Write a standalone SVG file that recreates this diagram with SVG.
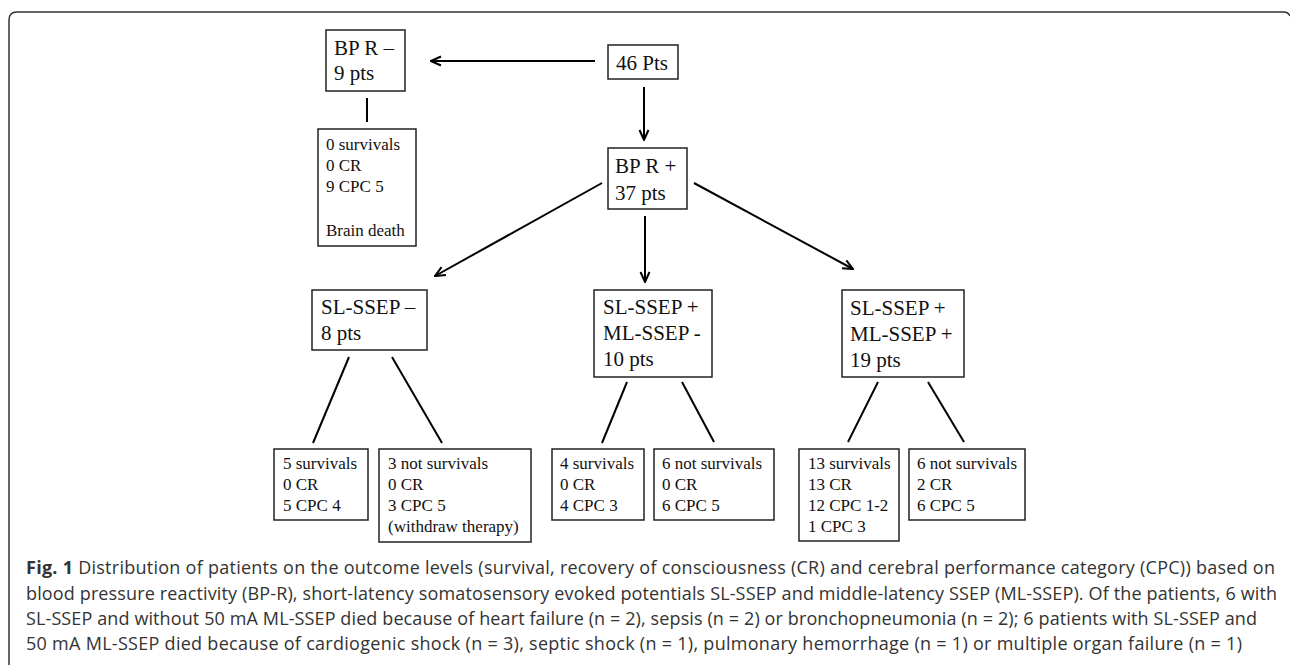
<svg xmlns="http://www.w3.org/2000/svg" width="1290" height="665" viewBox="0 0 1290 665">
<style>
.box{fill:#fff;stroke:#222;stroke-width:1.5}
.big{font-family:"Liberation Serif","Times New Roman",serif;font-size:21px;fill:#111}
.sm{font-family:"Liberation Serif","Times New Roman",serif;font-size:17px;fill:#111}
.con line{stroke:#000;stroke-width:2;fill:none}
.cap{font-family:"Open Sans","Liberation Sans",sans-serif;font-size:18px;fill:#333}
.frame{fill:none;stroke:#333;stroke-width:1.5}
</style>
<defs>
<marker id="arr" viewBox="0 0 12 12" refX="11" refY="6" markerWidth="12" markerHeight="12" markerUnits="userSpaceOnUse" orient="auto">
<path d="M1,1.5 L11,6 L1,10.5" fill="none" stroke="#000" stroke-width="2"/>
</marker>
</defs>
<rect width="1290" height="665" fill="#fff"/>
<path class="frame" d="M9,665 V20 Q9,12 17,12 H1284 Q1288,12 1290,16"/>

<g id="connectors" class="con">
<line x1="595" y1="61" x2="431" y2="61" marker-end="url(#arr)"/>
<line x1="367" y1="98" x2="367" y2="122"/>
<line x1="644" y1="87" x2="644" y2="140" marker-end="url(#arr)"/>
<line x1="602" y1="183" x2="435" y2="276" marker-end="url(#arr)"/>
<line x1="645" y1="216" x2="645" y2="282" marker-end="url(#arr)"/>
<line x1="694" y1="183" x2="853" y2="269" marker-end="url(#arr)"/>
<line x1="349" y1="357" x2="313" y2="443"/>
<line x1="392" y1="357" x2="442" y2="443"/>
<line x1="627" y1="382" x2="602" y2="443"/>
<line x1="682" y1="382" x2="714" y2="442"/>
<line x1="878" y1="382" x2="848" y2="442"/>
<line x1="928" y1="382" x2="964" y2="442"/>
</g>

<g id="n46">
<rect class="box" x="608" y="45" width="70" height="34"/>
<text class="big" x="616" y="70">46 Pts</text>
</g>
<g id="bprneg">
<rect class="box" x="326" y="30" width="79" height="61"/>
<text class="big" x="334" y="55">BP R –</text>
<text class="big" x="334" y="80">9 pts</text>
</g>
<g id="bprneg_out">
<rect class="box" x="318" y="129" width="98" height="117"/>
<text class="sm" x="326" y="150">0 survivals</text>
<text class="sm" x="326" y="171">0 CR</text>
<text class="sm" x="326" y="192">9 CPC 5</text>
<text class="sm" x="326" y="236">Brain death</text>
</g>
<g id="bprpos">
<rect class="box" x="608" y="148" width="79" height="61"/>
<text class="big" x="615" y="173">BP R +</text>
<text class="big" x="615" y="200">37 pts</text>
</g>
<g id="slneg">
<rect class="box" x="312" y="290" width="115" height="60"/>
<text class="big" x="321" y="314">SL-SSEP –</text>
<text class="big" x="321" y="340">8 pts</text>
</g>
<g id="slpos_mlneg">
<rect class="box" x="594" y="290" width="118" height="87"/>
<text class="big" x="603" y="314">SL-SSEP +</text>
<text class="big" x="603" y="340">ML-SSEP -</text>
<text class="big" x="603" y="366">10 pts</text>
</g>
<g id="slpos_mlpos">
<rect class="box" x="842" y="290" width="122" height="87"/>
<text class="big" x="850" y="315">SL-SSEP +</text>
<text class="big" x="850" y="341">ML-SSEP +</text>
<text class="big" x="850" y="367">19 pts</text>
</g>
<g id="o1">
<rect class="box" x="274" y="449" width="94" height="71"/>
<text class="sm" x="283" y="469">5 survivals</text>
<text class="sm" x="283" y="490">0 CR</text>
<text class="sm" x="283" y="511">5 CPC 4</text>
</g>
<g id="o2">
<rect class="box" x="379" y="449" width="152" height="93"/>
<text class="sm" x="388" y="469">3 not survivals</text>
<text class="sm" x="388" y="490">0 CR</text>
<text class="sm" x="388" y="511">3 CPC 5</text>
<text class="sm" x="388" y="532">(withdraw therapy)</text>
</g>
<g id="o3">
<rect class="box" x="552" y="449" width="92" height="71"/>
<text class="sm" x="560" y="469">4 survivals</text>
<text class="sm" x="560" y="490">0 CR</text>
<text class="sm" x="560" y="511">4 CPC 3</text>
</g>
<g id="o4">
<rect class="box" x="654" y="449" width="120" height="71"/>
<text class="sm" x="662" y="469">6 not survivals</text>
<text class="sm" x="662" y="490">0 CR</text>
<text class="sm" x="662" y="511">6 CPC 5</text>
</g>
<g id="o5">
<rect class="box" x="799" y="449" width="100" height="92"/>
<text class="sm" x="808" y="469">13 survivals</text>
<text class="sm" x="808" y="490">13 CR</text>
<text class="sm" x="808" y="511">12 CPC 1-2</text>
<text class="sm" x="808" y="532">1 CPC 3</text>
</g>
<g id="o6">
<rect class="box" x="909" y="449" width="116" height="71"/>
<text class="sm" x="917" y="469">6 not survivals</text>
<text class="sm" x="917" y="490">2 CR</text>
<text class="sm" x="917" y="511">6 CPC 5</text>
</g>

<g id="caption" class="cap">
<text x="26" y="574" textLength="1249"><tspan font-weight="bold">Fig. 1</tspan> Distribution of patients on the outcome levels (survival, recovery of consciousness (CR) and cerebral performance category (CPC)) based on</text>
<text x="26" y="599.5" textLength="1251">blood pressure reactivity (BP-R), short-latency somatosensory evoked potentials SL-SSEP and middle-latency SSEP (ML-SSEP). Of the patients, 6 with</text>
<text x="26" y="625" textLength="1231">SL-SSEP and without 50 mA ML-SSEP died because of heart failure (n = 2), sepsis (n = 2) or bronchopneumonia (n = 2); 6 patients with SL-SSEP and</text>
<text x="26" y="649.5" textLength="1216">50 mA ML-SSEP died because of cardiogenic shock (n = 3), septic shock (n = 1), pulmonary hemorrhage (n = 1) or multiple organ failure (n = 1)</text>
</g>
</svg>
